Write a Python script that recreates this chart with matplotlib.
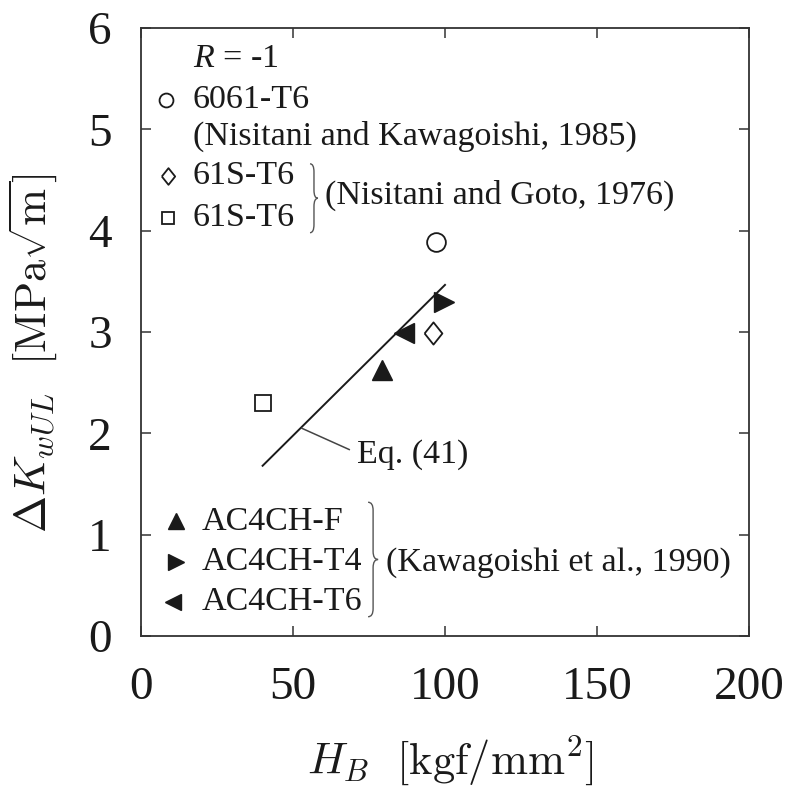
import numpy as np
import matplotlib
matplotlib.use('Agg')
import matplotlib.pyplot as plt
from matplotlib.path import Path
from matplotlib.patches import PathPatch

plt.rcParams['font.family'] = ['Liberation Serif', 'DejaVu Serif']
plt.rcParams['mathtext.fontset'] = 'custom'
plt.rcParams['mathtext.rm'] = 'Liberation Serif'
plt.rcParams['mathtext.it'] = 'Liberation Serif:italic'

# Brinell hardness H_B [kgf/mm^2] and threshold dK_wUL [MPa sqrt(m)], R = -1
hb_6061 = [97.0]
dk_6061 = [3.89]
hb_61s_a = [96.2]
dk_61s_a = [2.99]
hb_61s_b = [40.0]
dk_61s_b = [2.30]
hb_ac_f = [79.2]
dk_ac_f = [2.63]
hb_ac_t4 = [99.8]
dk_ac_t4 = [3.30]
hb_ac_t6 = [86.5]
dk_ac_t6 = [2.99]

# Eq. (41) line end points
eq41_hb = [40.0, 100.0]
eq41_dk = [1.68, 3.465]

x_ticks = [0, 50, 100, 150, 200]
y_ticks = [0, 1, 2, 3, 4, 5, 6]

ink = '#1a1a1a'
diamond = [(-0.8, 0), (0, 1), (0.8, 0), (0, -1), (-0.8, 0)]

fig = plt.figure(figsize=(7.86, 7.94), dpi=100)
ax = fig.add_axes([0.1794, 0.199, 0.7735, 0.7657])

# data points
open_kw = dict(ls='none', mfc='white', mec=ink, mew=1.3)
ax.plot(hb_6061, dk_6061, marker='o', ms=13.5, **open_kw)
ax.plot(hb_61s_a, dk_61s_a, marker=diamond, ms=16, **open_kw)
ax.plot(hb_61s_b, dk_61s_b, marker='s', ms=11, **open_kw)
ax.plot(hb_ac_f, dk_ac_f, marker='^', ms=14, ls='none', color=ink)
ax.plot(hb_ac_t4, dk_ac_t4, marker='>', ms=14, ls='none', color=ink)
ax.plot(hb_ac_t6, dk_ac_t6, marker='<', ms=14, ls='none', color=ink)

ax.plot(eq41_hb, eq41_dk, color=ink, lw=1.4)
ax.plot([52.9, 68.5], [2.05, 1.84], color='#444444', lw=1.1)

tfs = 24.5
ax.text(71, 1.79, 'Eq. (41)', fontsize=tfs, va='center', ha='left', color=ink)


def brace(x0, y0, y1, w):
    # right-facing curly brace between y0 and y1
    ym = 0.5 * (y0 + y1)
    r = 0.08
    xm = x0 + w / 2
    verts = [(x0, y1), (xm, y1), (xm, y1 - r),
             (xm, ym + r), (xm, ym), (x0 + w, ym),
             (xm, ym), (xm, ym - r),
             (xm, y0 + r), (xm, y0), (x0, y0)]
    codes = [Path.MOVETO, Path.CURVE3, Path.CURVE3,
             Path.LINETO, Path.CURVE3, Path.CURVE3,
             Path.CURVE3, Path.CURVE3,
             Path.LINETO, Path.CURVE3, Path.CURVE3]
    ax.add_patch(PathPatch(Path(verts, codes), fc='none', ec='#555555', lw=1.0))


# legend block, upper left
ax.text(17.1, 5.70, r'$R$ = -1', fontsize=tfs, va='center', color=ink)
ax.plot([8.2], [5.29], marker='o', ms=10, **open_kw)
ax.text(17.1, 5.29, '6061-T6', fontsize=tfs, va='center', color=ink)
ax.text(17.1, 4.93, '(Nisitani and Kawagoishi, 1985)', fontsize=tfs, va='center', color=ink)
ax.plot([8.8], [4.54], marker=diamond, ms=12, **open_kw)
ax.text(17.1, 4.54, '61S-T6', fontsize=tfs, va='center', color=ink)
ax.plot([8.9], [4.13], marker='s', ms=8, **open_kw)
ax.text(17.1, 4.13, '61S-T6', fontsize=tfs, va='center', color=ink)
brace(55.6, 3.98, 4.66, 2.6)
ax.text(60.5, 4.35, '(Nisitani and Goto, 1976)', fontsize=tfs, va='center', color=ink)

# legend block, lower left
ax.plot([11.5], [1.13], marker='^', ms=12, ls='none', color=ink)
ax.text(20.0, 1.13, 'AC4CH-F', fontsize=tfs, va='center', color=ink)
ax.plot([11.5], [0.73], marker='>', ms=12, ls='none', color=ink)
ax.text(20.0, 0.73, 'AC4CH-T4', fontsize=tfs, va='center', color=ink)
ax.plot([10.5], [0.34], marker='<', ms=12, ls='none', color=ink)
ax.text(20.0, 0.34, 'AC4CH-T6', fontsize=tfs, va='center', color=ink)
brace(74.7, 0.19, 1.32, 3.3)
ax.text(80.5, 0.72, '(Kawagoishi et al., 1990)', fontsize=tfs, va='center', color=ink)

ax.set_xlim(0, 200)
ax.set_ylim(0, 6)
ax.set_xticks(x_ticks)
ax.set_yticks(y_ticks)
ax.tick_params(direction='in', length=7, width=1.1, top=True, right=True,
               labelsize=34, colors='#333333', labelcolor=ink, pad=21)
ax.tick_params(axis='x', pad=22)
for s in ax.spines.values():
    s.set_linewidth(1.3)
    s.set_color('#333333')

ax.set_xlabel(r'$H_B\ \ [\mathrm{kgf/mm^2}]$', fontsize=32, color=ink,
              math_fontfamily='cm')
ax.set_ylabel(r'$\Delta K_{wUL}\ \ [\mathrm{MPa}\sqrt{\mathrm{m}}]$', fontsize=32,
              color=ink, math_fontfamily='cm')
ax.xaxis.set_label_coords(0.508, -0.16)
ax.yaxis.set_label_coords(-0.133, 0.465)

fig.savefig('out.png', dpi=100)
